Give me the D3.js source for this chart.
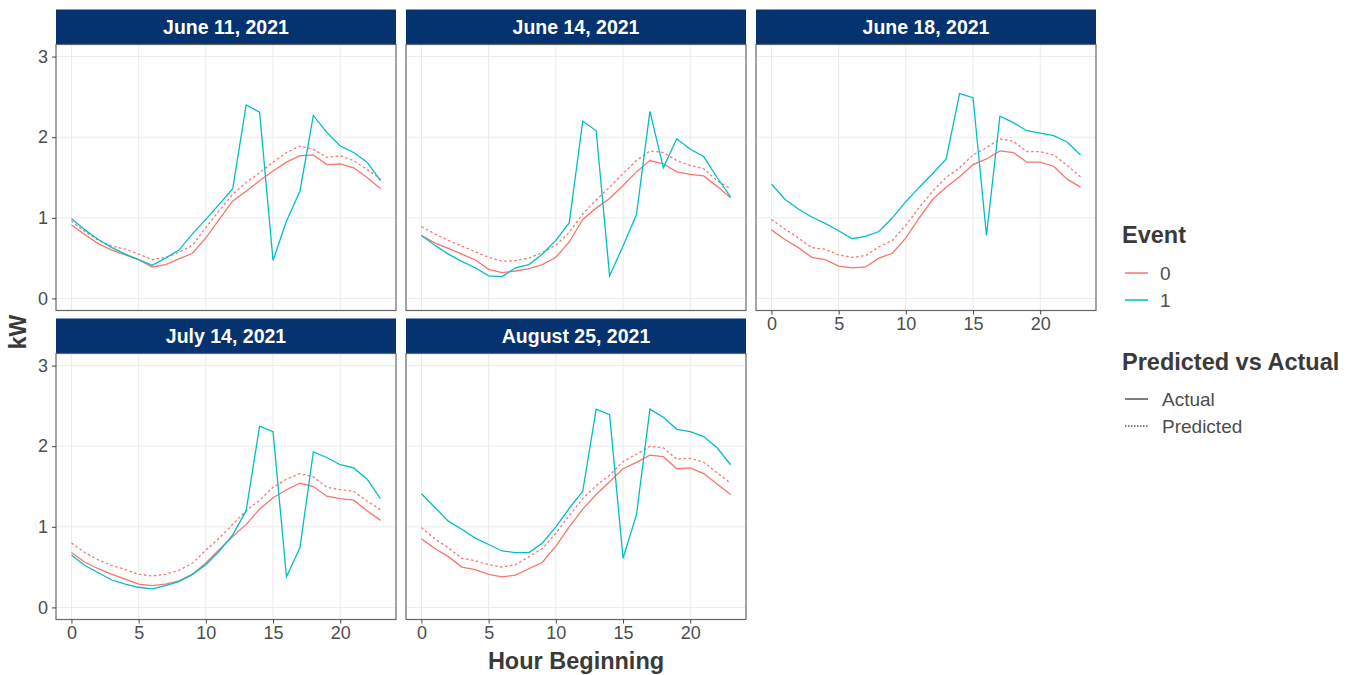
<!DOCTYPE html>
<html>
<head>
<meta charset="utf-8">
<script src="https://cdn.jsdelivr.net/npm/d3@7"></script>
<style>
  body { margin: 0; background: #fff; }
  text { font-family: "Liberation Sans", Arial, sans-serif; }
</style>
</head>
<body>
<div id="chart"></div>
<script>
// hour of day on the x axis
const HOURS = [0,1,2,3,4,5,6,7,8,9,10,11,12,13,14,15,16,17,18,19,20,21,22,23];
const PANEL_LABELS = ["June 11, 2021", "June 14, 2021", "June 18, 2021", "July 14, 2021", "August 25, 2021"];
const X_TICKS = [0, 5, 10, 15, 20];
const Y_TICKS = [0, 1, 2, 3];
const EVENT_LABELS = ["0", "1"];
const TYPE_LABELS = ["Actual", "Predicted"];

// June 11
const jun11Actual0 = [0.91,0.79,0.68,0.60,0.54,0.48,0.39,0.42,0.49,0.56,0.75,0.98,1.21,1.33,1.46,1.58,1.69,1.77,1.78,1.66,1.67,1.62,1.50,1.36];
const jun11Pred0   = [0.96,0.83,0.72,0.65,0.61,0.55,0.48,0.51,0.57,0.66,0.88,1.09,1.29,1.44,1.56,1.69,1.81,1.89,1.85,1.75,1.77,1.71,1.60,1.48];
const jun11Actual1 = [0.99,0.85,0.73,0.63,0.55,0.48,0.41,0.50,0.60,0.80,0.98,1.17,1.36,2.40,2.31,0.47,0.96,1.33,2.27,2.06,1.89,1.81,1.69,1.46];
// June 14
const jun14Actual0 = [0.78,0.69,0.62,0.55,0.48,0.36,0.32,0.34,0.37,0.42,0.51,0.70,0.98,1.12,1.24,1.40,1.57,1.71,1.67,1.57,1.54,1.52,1.39,1.25];
const jun14Pred0   = [0.89,0.80,0.72,0.65,0.58,0.51,0.46,0.47,0.50,0.57,0.66,0.82,1.05,1.22,1.38,1.55,1.71,1.83,1.81,1.71,1.65,1.61,1.46,1.36];
const jun14Actual1 = [0.78,0.66,0.55,0.46,0.38,0.28,0.27,0.38,0.42,0.55,0.72,0.94,2.20,2.08,0.28,0.65,1.04,2.32,1.62,1.98,1.85,1.76,1.50,1.26];
// June 18
const jun18Actual0 = [0.85,0.73,0.63,0.51,0.48,0.40,0.38,0.39,0.50,0.56,0.75,1.00,1.23,1.38,1.51,1.66,1.73,1.83,1.81,1.69,1.69,1.64,1.48,1.38];
const jun18Pred0   = [0.98,0.86,0.75,0.63,0.61,0.54,0.51,0.53,0.64,0.72,0.91,1.13,1.33,1.50,1.62,1.78,1.87,1.98,1.95,1.82,1.82,1.78,1.65,1.51];
const jun18Actual1 = [1.42,1.23,1.11,1.01,0.93,0.84,0.74,0.77,0.83,1.00,1.20,1.38,1.55,1.73,2.54,2.49,0.78,2.26,2.18,2.08,2.05,2.02,1.94,1.78];
// July 14
const jul14Actual0 = [0.68,0.56,0.48,0.41,0.35,0.29,0.27,0.29,0.33,0.41,0.55,0.72,0.88,1.03,1.22,1.36,1.46,1.54,1.50,1.38,1.35,1.33,1.20,1.08];
const jul14Pred0   = [0.80,0.68,0.59,0.52,0.47,0.41,0.39,0.41,0.46,0.55,0.71,0.86,1.03,1.20,1.33,1.49,1.59,1.66,1.62,1.49,1.46,1.44,1.32,1.21];
const jul14Actual1 = [0.65,0.52,0.43,0.34,0.29,0.25,0.23,0.27,0.32,0.41,0.53,0.70,0.90,1.20,2.25,2.18,0.38,0.74,1.93,1.86,1.77,1.73,1.59,1.35];
// August 25
const aug25Actual0 = [0.85,0.73,0.63,0.50,0.47,0.41,0.38,0.40,0.48,0.56,0.76,1.00,1.22,1.40,1.56,1.72,1.80,1.89,1.87,1.72,1.73,1.66,1.53,1.40];
const aug25Pred0   = [0.99,0.85,0.74,0.61,0.58,0.53,0.50,0.53,0.63,0.73,0.92,1.14,1.35,1.51,1.64,1.81,1.90,2.00,1.98,1.84,1.85,1.80,1.67,1.54];
const aug25Actual1 = [1.41,1.24,1.07,0.97,0.86,0.78,0.70,0.68,0.68,0.80,1.00,1.23,1.44,2.46,2.39,0.61,1.15,2.46,2.36,2.21,2.18,2.12,1.98,1.77];

const panels = [
  {label: PANEL_LABELS[0], row: 0, col: 0, series: [jun11Actual0, jun11Pred0, jun11Actual1]},
  {label: PANEL_LABELS[1], row: 0, col: 1, series: [jun14Actual0, jun14Pred0, jun14Actual1]},
  {label: PANEL_LABELS[2], row: 0, col: 2, series: [jun18Actual0, jun18Pred0, jun18Actual1]},
  {label: PANEL_LABELS[3], row: 1, col: 0, series: [jul14Actual0, jul14Pred0, jul14Actual1]},
  {label: PANEL_LABELS[4], row: 1, col: 1, series: [aug25Actual0, aug25Pred0, aug25Actual1]}
];
// which event / type each of the three series is
const SERIES_KEYS = [{event: 0, type: 0}, {event: 0, type: 1}, {event: 1, type: 0}];

const WIDTH = 1356, HEIGHT = 675;
const PANEL_W = 340, PLOT_H = 266, STRIP_H = 35;
const COL_X = [56, 406, 756];
const ROW_Y = [9.5, 318.5];   // top of strip
const COLORS = ["#F8766D", "#00BFC4"];
const DASH = [null, "2.5,2.5"];

const svg = d3.select("#chart").append("svg")
    .attr("width", WIDTH)
    .attr("height", HEIGHT);
svg.append("rect").attr("width", WIDTH).attr("height", HEIGHT).attr("fill", "#fff");

const X_SCALE = d3.scaleLinear().domain([-1.15, 24.15]).range([0, PANEL_W]);
const Y_SCALE = d3.scaleLinear().domain([-0.15, 3.15]).range([PLOT_H, 0]);

const line = d3.line()
    .x((d, i) => X_SCALE(HOURS[i]))
    .y(d => Y_SCALE(d));

panels.forEach(p => {
  const g = svg.append("g")
      .attr("transform", "translate(" + COL_X[p.col] + "," + (ROW_Y[p.row] + STRIP_H) + ")");

  // strip
  g.append("rect")
      .attr("x", 0).attr("y", -STRIP_H)
      .attr("width", PANEL_W).attr("height", STRIP_H)
      .attr("fill", "#053370");
  g.append("text")
      .attr("x", PANEL_W / 2).attr("y", -STRIP_H / 2)
      .attr("dy", "0.36em")
      .attr("text-anchor", "middle")
      .attr("fill", "#fff")
      .attr("font-weight", "bold")
      .attr("font-size", "19.5px")
      .text(p.label);

  // grid
  g.selectAll(".gx").data(X_TICKS).enter().append("line")
      .attr("x1", d => X_SCALE(d)).attr("x2", d => X_SCALE(d))
      .attr("y1", 0).attr("y2", PLOT_H)
      .attr("stroke", "#EBEBEB").attr("stroke-width", 1);
  g.selectAll(".gy").data(Y_TICKS).enter().append("line")
      .attr("x1", 0).attr("x2", PANEL_W)
      .attr("y1", d => Y_SCALE(d)).attr("y2", d => Y_SCALE(d))
      .attr("stroke", "#EBEBEB").attr("stroke-width", 1);

  // lines
  p.series.forEach((vals, k) => {
    const key = SERIES_KEYS[k];
    g.append("path")
        .datum(vals)
        .attr("d", line)
        .attr("fill", "none")
        .attr("stroke", COLORS[key.event])
        .attr("stroke-width", 1.3)
        .attr("stroke-dasharray", DASH[key.type]);
  });

  // border
  g.append("rect")
      .attr("width", PANEL_W).attr("height", PLOT_H)
      .attr("fill", "none").attr("stroke", "#666").attr("stroke-width", 1.2);

  // y axis on first column
  if (p.col === 0) {
    const ya = g.append("g").call(d3.axisLeft(Y_SCALE).tickValues(Y_TICKS)
        .tickFormat(d3.format("d")).tickSize(4).tickPadding(4));
    ya.select(".domain").remove();
    ya.selectAll("line").attr("stroke", "#444");
    ya.selectAll("text").attr("font-size", "18px").attr("fill", "#4D4D4D")
        .attr("font-family", "Liberation Sans, Arial, sans-serif");
  }
  // x axis where nothing sits below
  if (p.row === 1 || p.col === 2) {
    const xa = g.append("g").attr("transform", "translate(0," + PLOT_H + ")")
        .call(d3.axisBottom(X_SCALE).tickValues(X_TICKS).tickSize(4).tickPadding(3));
    xa.select(".domain").remove();
    xa.selectAll("line").attr("stroke", "#444");
    xa.selectAll("text").attr("font-size", "18px").attr("fill", "#4D4D4D")
        .attr("font-family", "Liberation Sans, Arial, sans-serif");
  }
});

// axis titles
svg.append("text")
    .attr("x", (COL_X[0] + COL_X[2] + PANEL_W) / 2).attr("y", 669)
    .attr("text-anchor", "middle")
    .attr("font-weight", "bold").attr("font-size", "23.5px").attr("fill", "#3a3a3a")
    .text("Hour Beginning");
svg.append("text")
    .attr("transform", "translate(26,332) rotate(-90)")
    .attr("text-anchor", "middle")
    .attr("font-weight", "bold").attr("font-size", "23px").attr("fill", "#3a3a3a")
    .text("kW");

// legends
const leg = svg.append("g").attr("transform", "translate(1122,0)");
leg.append("text").attr("x", 0).attr("y", 243)
    .attr("font-weight", "bold").attr("font-size", "23.5px").attr("fill", "#3a3a3a")
    .text("Event");
EVENT_LABELS.forEach((lab, i) => {
  const y = 273 + i * 27;
  leg.append("line").attr("x1", 3).attr("x2", 26).attr("y1", y).attr("y2", y)
      .attr("stroke", COLORS[i]).attr("stroke-width", 1.5);
  leg.append("text").attr("x", 38).attr("y", y).attr("dy", "0.36em")
      .attr("font-size", "19px").attr("fill", "#4D4D4D").text(lab);
});
leg.append("text").attr("x", 0).attr("y", 370)
    .attr("font-weight", "bold").attr("font-size", "23.5px").attr("fill", "#3a3a3a")
    .text("Predicted vs Actual");
TYPE_LABELS.forEach((lab, i) => {
  const y = 399 + i * 27;
  leg.append("line").attr("x1", 3).attr("x2", 26).attr("y1", y).attr("y2", y)
      .attr("stroke", "#555").attr("stroke-width", 1.5)
      .attr("stroke-dasharray", i === 1 ? "1.5,1.5" : null);
  leg.append("text").attr("x", 40).attr("y", y).attr("dy", "0.36em")
      .attr("font-size", "19px").attr("fill", "#4D4D4D").text(lab);
});
</script>
</body>
</html>
